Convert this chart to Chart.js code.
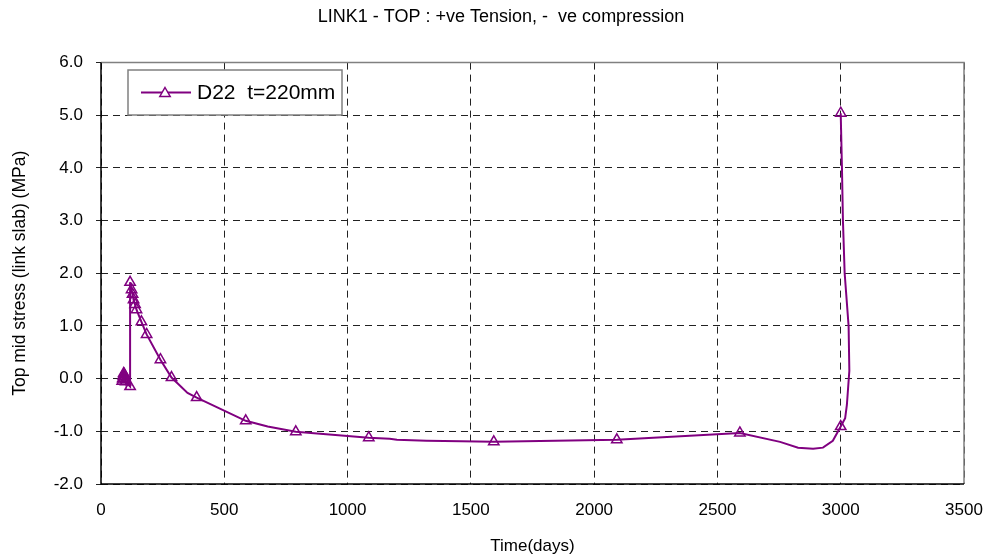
<!DOCTYPE html>
<html>
<head>
<meta charset="utf-8">
<script src="https://cdn.jsdelivr.net/npm/chart.js@4.4.0/dist/chart.umd.min.js"></script>
<style>
    body { margin: 0; background: #fff; }
    #wrap { width: 996px; height: 560px; }
</style>
</head>
<body>
<div id="wrap"><canvas id="stress-chart" width="996" height="560"></canvas></div>
<script>
"use strict";

// data (time in days, stress in MPa)
var timeDays = [86, 88, 90, 92, 94, 96, 98, 100, 118, 118,
    124, 128, 132, 138, 144, 164, 185, 241, 286, 351,
    388, 587, 676, 790, 1000, 1086, 1171, 1200, 1320, 1460,
    1593, 2092, 2591, 2754, 2827, 2888, 2928, 2968, 3000, 3018,
    3025, 3035, 3032, 3016, 3009, 3005, 3000];
var stressMPa = [-0.05, 0.0, 0.05, 0.1, 0.08, 0.03, -0.02, -0.06, -0.15, 1.83,
    1.69, 1.6, 1.5, 1.41, 1.31, 1.08, 0.84, 0.36, 0.02, -0.27,
    -0.36, -0.8, -0.91, -1.01, -1.09, -1.12, -1.14, -1.16, -1.18, -1.19,
    -1.2, -1.16, -1.03, -1.2, -1.31, -1.33, -1.31, -1.18, -0.91, -0.75,
    -0.5, 0.15, 1.0, 2.0, 3.0, 4.0, 5.04];
// 1 = reported output step (gets a marker), 0 = intermediate step
var reported = [1, 1, 1, 1, 1, 1, 1, 1, 1, 1,
    1, 1, 1, 1, 1, 1, 1, 1, 1, 0,
    1, 1, 0, 1, 0, 1, 0, 0, 0, 0,
    1, 1, 1, 0, 0, 0, 0, 0, 1, 0,
    0, 0, 0, 0, 0, 0, 1];

var seriesName = "D22  t=220mm";
var xTickLabels = ["0", "500", "1000", "1500", "2000", "2500", "3000", "3500"];
var yTickLabels = ["-2.0", "-1.0", "0.0", "1.0", "2.0", "3.0", "4.0", "5.0", "6.0"];

var purple = "#800080";
var fontName = "'Liberation Sans', Arial, sans-serif";

var points = timeDays.map(function (d, i) {
    return { x: d, y: stressMPa[i] };
});

// solid axes on left/bottom, gray frame on top/right
var frame = {
    id: 'frame',
    beforeDatasetsDraw: function (chart) {
        var a = chart.chartArea, ctx = chart.ctx;
        ctx.save();
        ctx.setLineDash([]);
        ctx.strokeStyle = "#808080";
        ctx.lineWidth = 1.5;
        ctx.beginPath();
        ctx.moveTo(a.left, a.top);
        ctx.lineTo(a.right, a.top);
        ctx.lineTo(a.right, a.bottom);
        ctx.stroke();
        ctx.strokeStyle = "#000";
        ctx.beginPath();
        ctx.moveTo(a.left, a.top);
        ctx.lineTo(a.left, a.bottom);
        ctx.lineTo(a.right, a.bottom);
        ctx.stroke();
        ctx.restore();
    }
};

// boxed legend sitting inside the plot, top left
var boxLegend = {
    id: 'boxLegend',
    afterDraw: function (chart) {
        var ctx = chart.ctx;
        var bx = 128, by = 70, bw = 214, bh = 45;
        var cy = by + bh / 2;
        ctx.save();
        ctx.fillStyle = "#fff";
        ctx.fillRect(bx, by, bw, bh);
        ctx.strokeStyle = "#808080";
        ctx.lineWidth = 1.5;
        ctx.strokeRect(bx, by, bw, bh);

        ctx.strokeStyle = purple;
        ctx.lineWidth = 2;
        ctx.beginPath();
        ctx.moveTo(bx + 13, cy);
        ctx.lineTo(bx + 63, cy);
        ctx.stroke();

        ctx.fillStyle = "#fff";
        ctx.lineWidth = 1.5;
        ctx.beginPath();
        var r = 6, x0 = bx + 37, y0 = cy + 1;
        ctx.moveTo(x0, y0 - r);
        ctx.lineTo(x0 + r * 0.866, y0 + r / 2);
        ctx.lineTo(x0 - r * 0.866, y0 + r / 2);
        ctx.closePath();
        ctx.fill();
        ctx.stroke();

        ctx.fillStyle = "#000";
        ctx.font = "21px " + fontName;
        ctx.textAlign = "left";
        ctx.textBaseline = "middle";
        ctx.fillText(chart.data.datasets[0].label, bx + 69, cy + 1);
        ctx.restore();
    }
};

var stressChart = new Chart(document.getElementById("stress-chart"), {
    type: 'scatter',
    data: {
        datasets: [{
            label: seriesName,
            data: points,
            showLine: true,
            tension: 0,
            borderColor: purple,
            borderWidth: 2,
            pointStyle: 'triangle',
            pointRadius: function (ctx) { return reported[ctx.dataIndex] ? 6 : 0; },
            pointHoverRadius: 0,
            pointBorderColor: purple,
            pointBackgroundColor: "rgba(255,255,255,0)",
            pointBorderWidth: 1.5
        }]
    },
    options: {
        responsive: false,
        animation: false,
        layout: { padding: { left: 6, right: 0 } },
        plugins: {
            legend: { display: false },
            tooltip: { enabled: false },
            title: {
                display: true,
                text: 'LINK1 - TOP : +ve Tension, -  ve compression',
                color: "#000",
                font: { family: fontName, size: 18, weight: 'normal' },
                padding: { top: 6, bottom: 35 }
            }
        },
        scales: {
            x: {
                type: 'linear',
                min: 0,
                max: 3500,
                afterFit: function (scale) {
                    scale.height = 76;
                    scale.paddingLeft = 0;
                    scale.paddingRight = 32;
                },
                ticks: {
                    stepSize: 500,
                    color: "#000",
                    padding: 16,
                    maxRotation: 0,
                    font: { family: fontName, size: 17 },
                    callback: function (v, i) { return xTickLabels[i]; }
                },
                grid: { color: "#222", lineWidth: 1, drawTicks: false },
                border: { display: false, dash: [7, 5] },
                title: {
                    display: true,
                    text: 'Time(days)',
                    color: "#000",
                    font: { family: fontName, size: 17 },
                    padding: { top: 0, bottom: 3 }
                }
            },
            y: {
                min: -2,
                max: 6,
                afterFit: function (scale) { scale.width = 95; },
                ticks: {
                    stepSize: 1,
                    color: "#000",
                    padding: 13,
                    font: { family: fontName, size: 17 },
                    callback: function (v, i) { return yTickLabels[i]; }
                },
                grid: { color: "#222", lineWidth: 1, tickLength: 5 },
                border: { display: false, dash: [7, 5] },
                title: {
                    display: true,
                    text: 'Top mid stress (link slab) (MPa)',
                    color: "#000",
                    font: { family: fontName, size: 17.5 },
                    padding: { top: 4, bottom: 0 }
                }
            }
        }
    },
    plugins: [frame, boxLegend]
});
</script>
</body>
</html>
